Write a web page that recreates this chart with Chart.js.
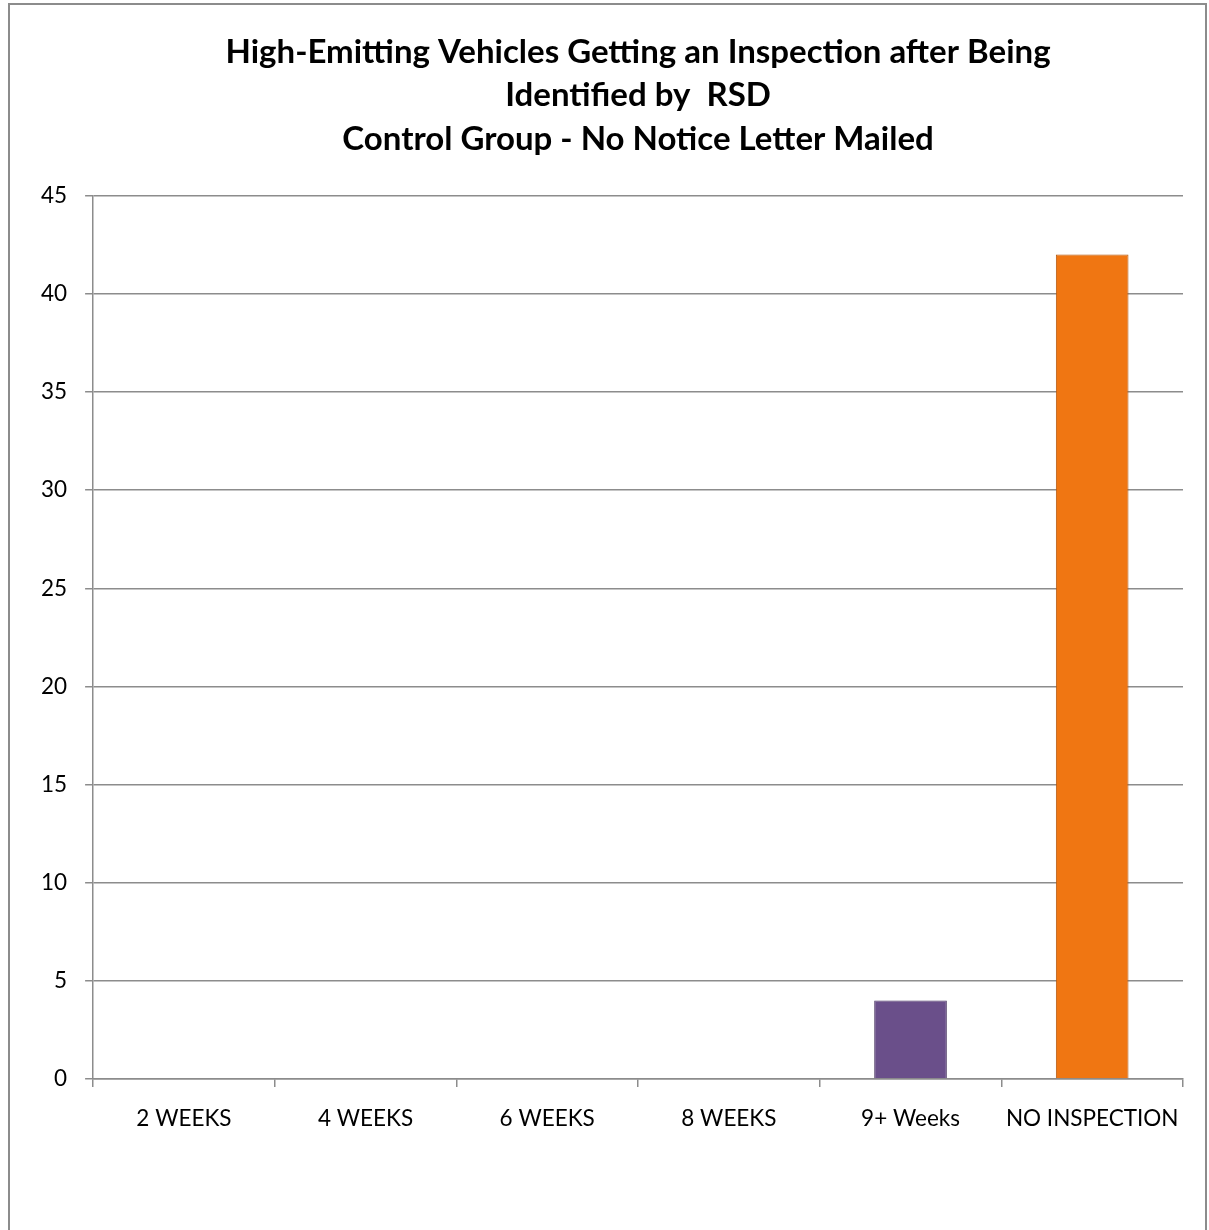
<!DOCTYPE html>
<html>
<head>
<meta charset="utf-8">
<script src="https://cdn.jsdelivr.net/npm/chart.js@4/dist/chart.umd.min.js"></script>
<style>
  html, body { margin: 0; padding: 0; background: #fff; }
  #wrap { position: absolute; left: 0; top: 0; width: 1209px; height: 1230px; }
  #frame { position: absolute; left: 8px; top: 3px; width: 1199px; height: 1240px; border: 2px solid #8c8c8c; box-sizing: border-box; pointer-events: none; }
</style>
</head>
<body>
<div id="wrap">
  <canvas id="chart" width="1209" height="1230"></canvas>
  <div id="frame"></div>
</div>
<script>
// Control group chart - weeks until inspection after RSD identification
const categories = ['2 WEEKS', '4 WEEKS', '6 WEEKS', '8 WEEKS', '9+ Weeks', 'NO INSPECTION'];
const vehicleCounts = [0, 0, 0, 0, 4, 42];
const barColors = ['#4f81bd', '#c0504d', '#9bbb59', '#8064a2', '#6a4f8a', '#f07612'];
const barEdges = ['#3a5f8c', '#8e3a38', '#71893f', '#5c4875', '#4a3763', '#b2560b'];
const titleLines = [
  'High-Emitting Vehicles Getting an Inspection after Being',
  'Identified by  RSD',
  'Control Group - No Notice Letter Mailed'
];
const yTicks = [0, 5, 10, 15, 20, 25, 30, 35, 40, 45];

const FONT = "Lato, 'Open Sans', sans-serif";

new Chart(document.getElementById('chart'), {
  type: 'bar',
  data: {
    labels: categories,
    datasets: [{
      data: vehicleCounts,
      backgroundColor: barColors,
      borderColor: barEdges,
      borderWidth: 1,
      borderSkipped: 'bottom',
      categoryPercentage: 1,
      barPercentage: 0.4
    }]
  },
  options: {
    responsive: false,
    animation: false,
    layout: { padding: { left: 23, right: 26, top: 0, bottom: 80 } },
    plugins: {
      legend: { display: false },
      tooltip: { enabled: false },
      title: {
        display: true,
        fullSize: false,
        text: titleLines,
        color: '#000',
        font: { family: FONT, size: 33, weight: 'bold', lineHeight: 1.33 },
        padding: { top: 30, bottom: 34 }
      }
    },
    scales: {
      x: {
        grid: {
          offset: true,
          drawOnChartArea: false,
          drawTicks: true,
          tickLength: 8,
          color: '#8c8c8c',
          lineWidth: 1.5
        },
        border: { color: '#8c8c8c', width: 1.5 },
        ticks: {
          color: '#000',
          padding: 18,
          maxRotation: 0,
          font: { family: FONT, size: 22.5 }
        }
      },
      y: {
        min: 0,
        max: 45,
        afterBuildTicks: (axis) => { axis.ticks = yTicks.map(v => ({ value: v })); },
        grid: { color: '#8c8c8c', lineWidth: 1.5, tickLength: 8 },
        border: { color: '#8c8c8c', width: 1.5 },
        ticks: {
          color: '#000',
          padding: 18,
          font: { family: FONT, size: 22.5 }
        }
      }
    }
  }
});
</script>
</body>
</html>
